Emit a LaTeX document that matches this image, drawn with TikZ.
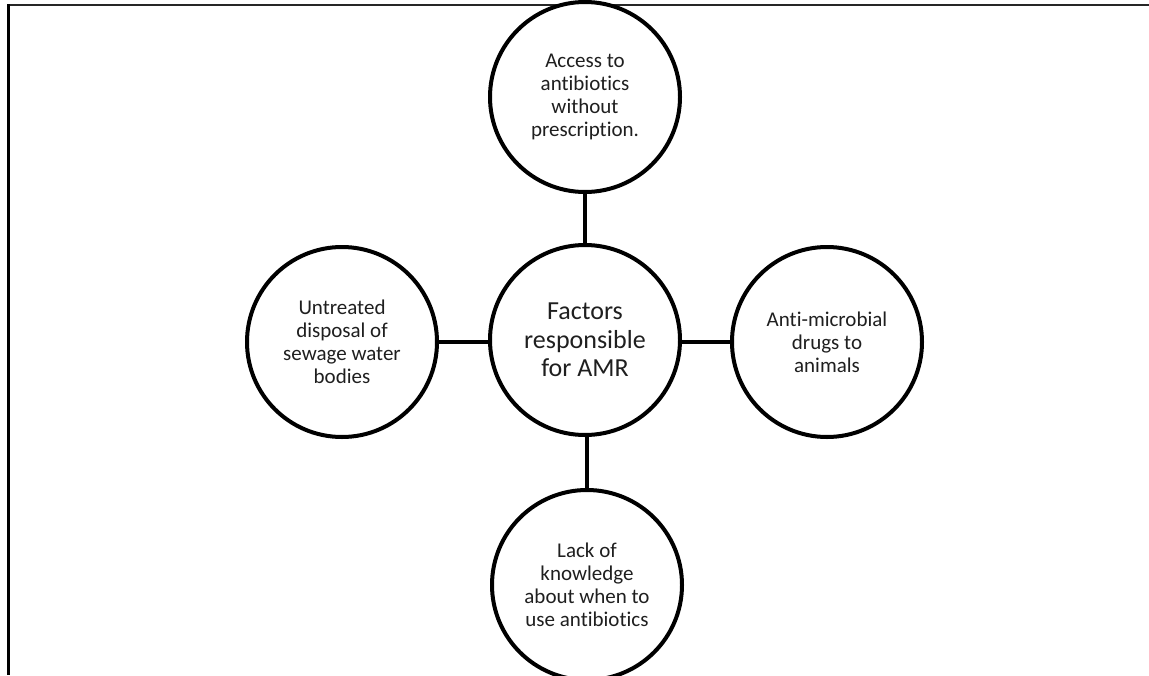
\documentclass[tikz,border=0pt]{standalone}
\usepackage{fontspec}
\setmainfont{Carlito}[Ligatures=NoCommon]
\begin{document}
\begin{tikzpicture}[x=1pt,y=-1pt,
  factor/.style={circle,draw=black,line width=4pt,fill=white,minimum size=190pt,inner sep=0pt,align=center,
    font=\fontsize{21}{23}\selectfont,text=black!88},
  hub/.style={factor,font=\fontsize{26}{28.5}\selectfont},
  link/.style={draw=black,line width=4pt}]
\useasboundingbox (0,0) rectangle (1149,675);
\clip (0,0) rectangle (1149,675);
\draw[line width=1.6pt,black!85] (8,5) -- (1149,5);
\draw[line width=3pt] (8.5,4.2) -- (8.5,675);
\node[hub] (c) at (585,340) {Factors\\responsible\\for AMR};
\node[factor] (t) at (585,97) {Access to\\antibiotics\\without\\prescription.};
\node[factor] (l) at (342,342) {Untreated\\disposal of\\sewage water\\bodies};
\node[factor] (r) at (827,342) {Anti-microbial\\drugs to\\animals};
\node[factor] (b) at (587,585) {Lack of\\knowledge\\about when to\\use antibiotics};
\draw[link] (c) -- (t);
\draw[link] (c.west |- l.east) -- (l.east);
\draw[link] (c.east |- r.west) -- (r.west);
\draw[link] (c.south) -- (c.south -| b.north) -- (b.north);
\end{tikzpicture}
\end{document}
